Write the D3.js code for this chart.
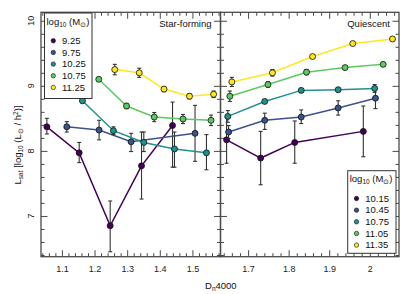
<!DOCTYPE html>
<html>
<head>
<meta charset="utf-8">
<script src="https://cdn.jsdelivr.net/npm/d3@7"></script>
<style>
  body { margin: 0; background: #fff; }
  svg { font-family: "Liberation Sans", Arial, sans-serif; }
</style>
</head>
<body>
<svg width="411" height="294"></svg>
<script>
// viridis, one colour per mass bin
const colors = ["#440154", "#3b528b", "#21918c", "#5ec962", "#fde725"];

// star-forming panel
const sfMass = ["9.25", "9.75", "10.25", "10.75", "11.25"];
const sfX = [
  [1.054, 1.153, 1.248, 1.344, 1.439],
  [1.115, 1.214, 1.312, 1.508],
  [1.163, 1.258, 1.351, 1.445, 1.543],
  [1.213, 1.298, 1.383, 1.471, 1.557],
  [1.262, 1.337, 1.413, 1.491, 1.565]
];
const sfY = [
  [8.37, 7.97, 6.85, 7.77, 8.39],
  [8.37, 8.32, 8.14, 8.27],
  [8.77, 8.31, 8.13, 8.03, 7.97],
  [9.10, 8.69, 8.52, 8.49, 8.47],
  [9.25, 9.20, 8.95, 8.84, 8.87]
];
const sfLo = [
  [8.26, 7.82, 6.45, 7.26, 7.75],
  [8.29, 8.17, 7.99, 7.84],
  [8.74, 8.25, 7.99, 7.75, 7.71],
  [9.07, 8.65, 8.45, 8.42, 8.39],
  [9.17, 9.13, 8.91, 8.80, 8.82]
];
const sfHi = [
  [8.50, 8.13, 7.23, 8.29, 8.75],
  [8.45, 8.47, 8.27, 8.70],
  [8.80, 8.37, 8.29, 8.29, 8.25],
  [9.13, 8.73, 8.59, 8.56, 8.55],
  [9.33, 9.27, 8.99, 8.88, 8.92]
];

// quiescent panel
const qMass = ["10.15", "10.45", "10.75", "11.05", "11.35"];
const qX = [
  [1.647, 1.731, 1.815, 1.984],
  [1.652, 1.741, 1.831, 1.922, 2.014],
  [1.650, 1.741, 1.831, 1.922, 2.012],
  [1.655, 1.749, 1.844, 1.939, 2.033],
  [1.660, 1.760, 1.859, 1.958, 2.056]
];
const qY = [
  [8.17, 7.89, 8.13, 8.30],
  [8.29, 8.47, 8.52, 8.66, 8.81],
  [8.53, 8.76, 8.93, 8.94, 8.96],
  [8.84, 9.02, 9.21, 9.28, 9.33],
  [9.06, 9.20, 9.45, 9.65, 9.72]
];
const qLo = [
  [7.81, 7.48, 7.81, 7.91],
  [8.19, 8.33, 8.42, 8.55, 8.65],
  [8.44, 8.73, 8.90, 8.91, 8.90],
  [8.76, 8.98, 9.17, 9.25, 9.30],
  [8.99, 9.15, 9.42, 9.62, 9.69]
];
const qHi = [
  [8.52, 8.30, 8.46, 8.69],
  [8.39, 8.58, 8.63, 8.77, 8.96],
  [8.62, 8.79, 8.96, 8.97, 9.02],
  [8.92, 9.06, 9.25, 9.31, 9.36],
  [9.13, 9.25, 9.48, 9.68, 9.75]
];

const sfTicks = [1.1, 1.2, 1.3, 1.4, 1.5];
const qTicks = [1.7, 1.8, 1.9, 2.0];
const qTickLabels = ["1.7", "1.8", "1.9", "2"];
const yTicks = [7, 8, 9, 10];

const svg = d3.select("svg");
const plotTop = 12.3, plotBottom = 256.7;
const y = d3.scaleLinear().domain([6.374, 10.13]).range([plotBottom, plotTop]);
const xL = d3.scaleLinear().domain([1.036, 1.586]).range([41, 220.5]);
const xR = d3.scaleLinear().domain([1.632, 2.072]).range([220.5, 399]);

const frameColor = "#4a4a4a";

function drawPanel(x, majors, labels, title)
{
  const [x0, x1] = x.range();
  const g = svg.append("g");
  const [d0, d1] = x.domain();
  const minorX = d3.range(Math.ceil(d0 / 0.02) * 0.02, d1, 0.02)
    .filter((v) => !majors.some((m) => Math.abs(m - v) < 1e-6));
  const minorY = d3.range(6.4, 10.13, 0.2)
    .filter((v) => !yTicks.some((m) => Math.abs(m - v) < 1e-6));

  const axes = [
    [d3.axisBottom(x), `translate(0,${ plotBottom })`, true, "x"],
    [d3.axisTop(x), `translate(0,${ plotTop })`, false, "x"],
    [d3.axisLeft(y), `translate(${ x0 },0)`, false, "y"],
    [d3.axisRight(y), `translate(${ x1 },0)`, false, "y"]
  ];
  axes.forEach(([axis, tr, withLabels, dim]) =>
  {
    const maj = dim === "x" ? majors : yTicks;
    const min = dim === "x" ? minorX : minorY;
    const gMaj = g.append("g").attr("transform", tr)
      .call(axis.tickValues(maj).tickSize(-6.5).tickPadding(9)
        .tickFormat((d, i) => withLabels ? labels[i] : ""));
    const gMin = g.append("g").attr("transform", tr)
      .call(axis.tickValues(min).tickSize(-3.5).tickFormat(""));
    [gMaj, gMin].forEach((a) =>
    {
      a.select(".domain").remove();
      a.selectAll("line").attr("stroke", frameColor).attr("stroke-width", 1);
      a.selectAll("text").attr("fill", "#222").attr("font-size", 9)
        .attr("font-family", "Liberation Sans, Arial, sans-serif");
    });
  });

  g.append("rect")
    .attr("x", x0).attr("y", plotTop)
    .attr("width", x1 - x0).attr("height", plotBottom - plotTop)
    .attr("fill", "none").attr("stroke", frameColor).attr("stroke-width", 1.3);

  g.append("text")
    .attr("x", x1 - 9).attr("y", 27)
    .attr("text-anchor", "end").attr("font-size", 9.5).attr("fill", "#111")
    .text(title);
  return g;
}

function drawSeries(g, x, xs, ys, lo, hi)
{
  xs.forEach((xv, s) =>
  {
    const pts = xv.map((v, i) => [v, ys[s][i], lo[s][i], hi[s][i]]);
    const line = d3.line().x((d) => x(d[0])).y((d) => y(d[1]));
    g.append("path").datum(pts).attr("d", line)
      .attr("fill", "none").attr("stroke", colors[s]).attr("stroke-width", 1.5);

    const eb = g.append("g").attr("stroke", "#333").attr("stroke-width", 1.1);
    pts.forEach((d) =>
    {
      eb.append("line").attr("x1", x(d[0])).attr("x2", x(d[0]))
        .attr("y1", y(d[2])).attr("y2", y(d[3]));
      [d[2], d[3]].forEach((v) =>
      {
        eb.append("line").attr("x1", x(d[0]) - 2).attr("x2", x(d[0]) + 2)
          .attr("y1", y(v)).attr("y2", y(v));
      });
    });

    g.selectAll(null).data(pts).enter().append("circle")
      .attr("cx", (d) => x(d[0])).attr("cy", (d) => y(d[1])).attr("r", 3)
      .attr("fill", colors[s]).attr("stroke", "#111").attr("stroke-width", 0.8);
  });
}

function legendTitle(sel)
{
  sel.append("tspan").text("log");
  sel.append("tspan").attr("font-size", 6.5).attr("dy", 2).text("10");
  sel.append("tspan").attr("dy", -2).text(" (M");
  sel.append("tspan").attr("font-size", 7).attr("dy", 2).text("⊙");
  sel.append("tspan").attr("dy", -2).text(")");
}

function drawLegend(lx, ly, w, h, labels)
{
  const g = svg.append("g");
  g.append("rect").attr("x", lx).attr("y", ly).attr("width", w).attr("height", h)
    .attr("fill", "#fff").attr("stroke", "#333").attr("stroke-width", 1);
  g.append("text").attr("x", lx + 2).attr("y", ly + 11.5)
    .attr("font-size", 9.5).attr("fill", "#111").call(legendTitle);
  labels.forEach((lab, i) =>
  {
    const cy = ly + 27.8 + i * 11.65;
    g.append("circle").attr("cx", lx + 8.8).attr("cy", cy).attr("r", 2.2)
      .attr("fill", colors[i]).attr("stroke", "#111").attr("stroke-width", 0.6);
    g.append("text").attr("x", lx + 17.5).attr("y", cy + 3.3)
      .attr("font-size", 9.5).attr("fill", "#111").text(lab);
  });
}

const gL = drawPanel(xL, sfTicks, sfTicks.map(d3.format(".1f")), "Star-forming");
drawSeries(gL, xL, sfX, sfY, sfLo, sfHi);
const gR = drawPanel(xR, qTicks, qTickLabels, "Quiescent");
drawSeries(gR, xR, qX, qY, qLo, qHi);

drawLegend(44.5, 13, 47.5, 85.5, sfMass);
drawLegend(347.7, 170.7, 48.3, 82.6, qMass);

// rotated y tick labels
yTicks.forEach((v) =>
{
  svg.append("text")
    .attr("transform", `translate(34,${ y(v) }) rotate(-90)`)
    .attr("text-anchor", "middle").attr("font-size", 9).attr("fill", "#222")
    .text(v);
});

// axis titles
const yl = svg.append("text")
  .attr("transform", "translate(21,145) rotate(-90)")
  .attr("text-anchor", "middle").attr("font-size", 9.5).attr("fill", "#111");
yl.append("tspan").text("L");
yl.append("tspan").attr("font-size", 6.5).attr("dy", 2).text("sat");
yl.append("tspan").attr("dy", -2).text(" [log");
yl.append("tspan").attr("font-size", 6.5).attr("dy", 2).text("10");
yl.append("tspan").attr("dy", -2).text(" (L");
yl.append("tspan").attr("font-size", 7).attr("dy", 2).text("⊙");
yl.append("tspan").attr("dy", -2).text(" / h");
yl.append("tspan").attr("font-size", 6.5).attr("dy", -3.5).text("2");
yl.append("tspan").attr("dy", 3.5).text(")]");

const xl = svg.append("text").attr("x", 205).attr("y", 289)
  .attr("font-size", 9.5).attr("fill", "#111");
xl.append("tspan").text("D");
xl.append("tspan").attr("font-size", 6.5).attr("dy", 2).text("n");
xl.append("tspan").attr("dy", -2).text("4000");
</script>
</body>
</html>
